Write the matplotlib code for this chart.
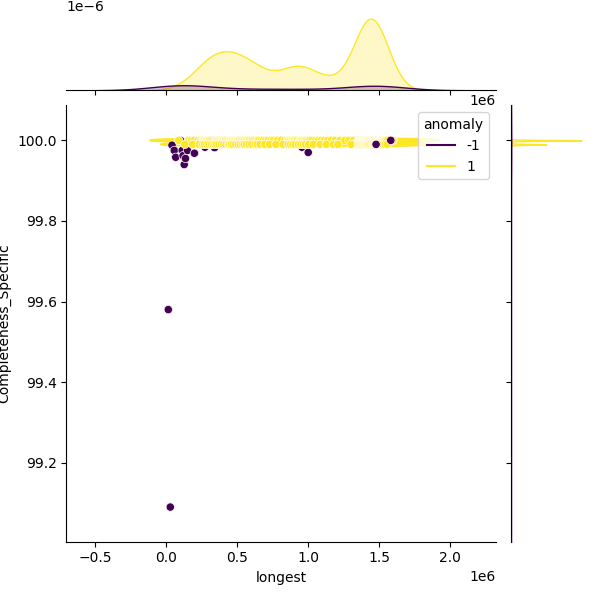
import pandas as pd
import seaborn as sns
import matplotlib.pyplot as plt

# longest values are in thousands (x1000 when building the frame)
# normal records (anomaly = 1) with Completeness_Specific = 100.0
normal_x_100 = [88, 158, 177, 196, 224, 241,
                252, 259, 266, 271, 279, 284, 291, 298, 304, 313, 322, 336, 347,
                351, 357, 364, 369, 377, 383, 391, 396, 402, 409, 417, 424, 433, 441, 448,
                453, 459, 466, 474, 481, 487, 494, 502, 509, 517, 526, 535, 546,
                553, 561, 569, 578, 586, 597, 607, 618, 631, 644,
                652, 667, 683, 701, 718, 739, 756, 781, 809, 836,
                853, 862, 871, 879, 888, 896, 905, 913, 924,
                938, 946, 953, 961, 969, 978, 987, 998, 1011, 1027,
                1053, 1072, 1094, 1115, 1138, 1163, 1191, 1224, 1258, 1287, 1319,
                1351, 1356, 1360, 1363, 1366, 1369, 1372, 1375, 1377, 1380, 1382, 1385,
                1387, 1389, 1392, 1394, 1396, 1398, 1401, 1403, 1405, 1407, 1409, 1412,
                1414, 1416, 1419, 1421, 1424, 1427, 1430, 1434, 1438, 1443, 1448,
                1451, 1454, 1457, 1460, 1462, 1465, 1467, 1470, 1472, 1474, 1477, 1479,
                1481, 1484, 1486, 1488, 1491, 1493, 1496, 1498, 1501, 1504, 1507, 1510,
                1514, 1518, 1522, 1527, 1532, 1538, 1544, 1551, 1559, 1597]
# normal records with Completeness_Specific = 99.99
normal_x_9999 = [131, 186, 232, 256, 269, 287, 301, 318, 331, 344,
                 355, 372, 388, 405, 421, 437, 446, 457, 471, 489, 506, 521, 538, 549,
                 565, 583, 603, 626, 641, 661, 694, 727, 772, 823,
                 858, 875, 892, 909, 931, 949, 966, 982, 1004, 1036,
                 1083, 1127, 1178, 1209, 1302,
                 1353, 1361, 1368, 1374, 1379, 1384, 1390, 1395, 1399, 1404, 1408, 1413,
                 1418, 1423, 1429, 1436, 1445,
                 1453, 1459, 1464, 1469, 1473, 1478, 1483, 1487, 1492, 1497, 1502, 1508,
                 1515, 1523, 1531, 1542, 1556]

# anomalies (anomaly = -1)
anom_x = [14, 28, 40, 56, 66, 100, 112, 118, 126, 135, 150, 198, 272, 340,
          590, 606, 812, 955, 1000,
          1372, 1398, 1415, 1431, 1447, 1463, 1488, 1505, 1529, 1548]
anom_y = [99.58, 99.09, 99.988, 99.975, 99.958, 100.0, 99.975, 99.962, 99.94, 99.955,
          99.975, 99.968, 99.983, 99.982,
          100.0, 100.0, 100.0, 99.983, 99.97,
          100.0, 99.99, 100.0, 99.99, 100.0, 100.0, 99.99, 100.0, 99.99, 100.0]
anom_x_last = [1478, 1582]
anom_y_last = [99.99, 100.0]

longest = anom_x + normal_x_100 + normal_x_9999 + anom_x_last
compl = anom_y + [100.0] * len(normal_x_100) + [99.99] * len(normal_x_9999) + anom_y_last
anomaly = ([-1] * len(anom_x) + [1] * (len(normal_x_100) + len(normal_x_9999))
           + [-1] * len(anom_x_last))

df = pd.DataFrame({'longest': [v * 1000 for v in longest],
                   'Completeness_Specific': compl,
                   'anomaly': anomaly})

g = sns.jointplot(data=df, x='longest', y='Completeness_Specific', hue='anomaly',
                  palette='viridis', marginal_kws=dict(bw_adjust=0.65))
g.plot_joint(sns.kdeplot, zorder=0)

g.ax_joint.set_xlim(-0.704e6, 2.324e6)
g.ax_joint.set_ylim(99.004, 100.087)

g.figure.savefig('out.png', dpi=100)
